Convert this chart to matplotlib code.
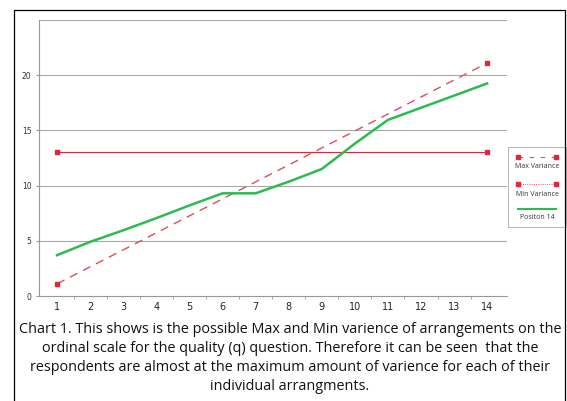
import numpy as np
import matplotlib
matplotlib.use("Agg")
from matplotlib import pyplot as plt
from matplotlib.lines import Line2D
from matplotlib.patches import Rectangle

positions = list(range(1, 15))
pos_14 = [3.7, 4.9, 5.95, 7.05, 8.2, 9.3, 9.3, 10.35, 11.5, 13.8, 15.95, 17.05, 18.15, 19.25]
max_x = [1, 14]
max_var = [1.1, 21.1]
min_x = [1, 14]
min_var = [13.05, 13.05]
caption = ("Chart 1. This shows is the possible Max and Min varience of arrangements on the\n"
           "ordinal scale for the quality (q) question. Therefore it can be seen  that the\n"
           "respondents are almost at the maximum amount of varience for each of their\n"
           "individual arrangments.")

W, H = 567, 401
fig = plt.figure(figsize=(W/100, H/100), dpi=100)
ax = fig.add_axes([39/W, 1-296/H, (507-39)/W, (296-20)/H])

red = '#e0283c'
ax.plot(max_x, max_var, color='#d9505a', lw=1.0, dashes=(6, 4.5), marker='s', ms=2.8,
        mfc=red, mec=red, zorder=3)
ax.plot(min_x, min_var, color=red, lw=0.8, marker='s', ms=2.8, mfc=red, mec=red, zorder=3)
ax.plot(positions, pos_14, color='#2dbb4f', lw=1.8, zorder=4)

ax.set_xlim(0.456, 14.6)
ax.set_ylim(0, 25)
ax.set_yticks([0, 5, 10, 15, 20])
ax.set_xticks(positions)
ax.set_xticks(np.arange(1.5, 14.5, 1), minor=True)
ax.tick_params(axis='x', which='major', length=0, labelsize=7, pad=4, colors='#222222')
ax.tick_params(axis='x', which='minor', length=2, color='#999999')
ax.tick_params(axis='y', length=2, labelsize=5.5, color='#999999', labelcolor='#333333')
for y in [5, 10, 15, 20, 25]:
    ax.axhline(y, color='#a8a8a8', lw=0.8, zorder=1)
for s in ['top', 'right']:
    ax.spines[s].set_visible(False)
for s in ['left', 'bottom']:
    ax.spines[s].set_color('#999999')
    ax.spines[s].set_linewidth(0.8)

# legend box, labels under samples
fig.add_artist(Rectangle((508/W, 1-227/H), 58/W, 80/H, transform=fig.transFigure,
                         fill=False, ec='#aaaaaa', lw=0.6))
def fx(px): return px/W
def fy(py): return 1-py/H
fig.add_artist(Line2D([fx(518), fx(556)], [fy(157), fy(157)], color='#d9505a', lw=0.8,
                      dashes=(4, 6), marker='s', ms=2.2, mfc=red, mec=red,
                      transform=fig.transFigure))
fig.text(fx(537), fy(166), 'Max Variance', fontsize=5, ha='center', va='center',
         family='Open Sans', color='#333333')
fig.add_artist(Line2D([fx(518), fx(556)], [fy(184), fy(184)], color=red, lw=0.6,
                      ls=':', marker='s', ms=2.2, mfc=red, mec=red,
                      transform=fig.transFigure))
fig.text(fx(537), fy(194), 'Min Variance', fontsize=5, ha='center', va='center',
         family='Open Sans', color='#333333')
fig.add_artist(Line2D([fx(518), fx(556)], [fy(209), fy(209)], color='#2dbb4f', lw=1.5,
                      transform=fig.transFigure))
fig.text(fx(537), fy(217), 'Positon 14', fontsize=5, ha='center', va='center',
         family='Open Sans', color='#333333')

# outer frame
fig.add_artist(Rectangle((14/W, -0.02), (565-14)/W, 1-10/H+0.02, transform=fig.transFigure,
                         fill=False, ec='black', lw=0.9))

fig.text(290/W, 1-358/H, caption, ha='center', va='center', fontsize=10.4,
         family='Open Sans', linespacing=1.35, color='#111111')

fig.savefig('out.png', dpi=100)
